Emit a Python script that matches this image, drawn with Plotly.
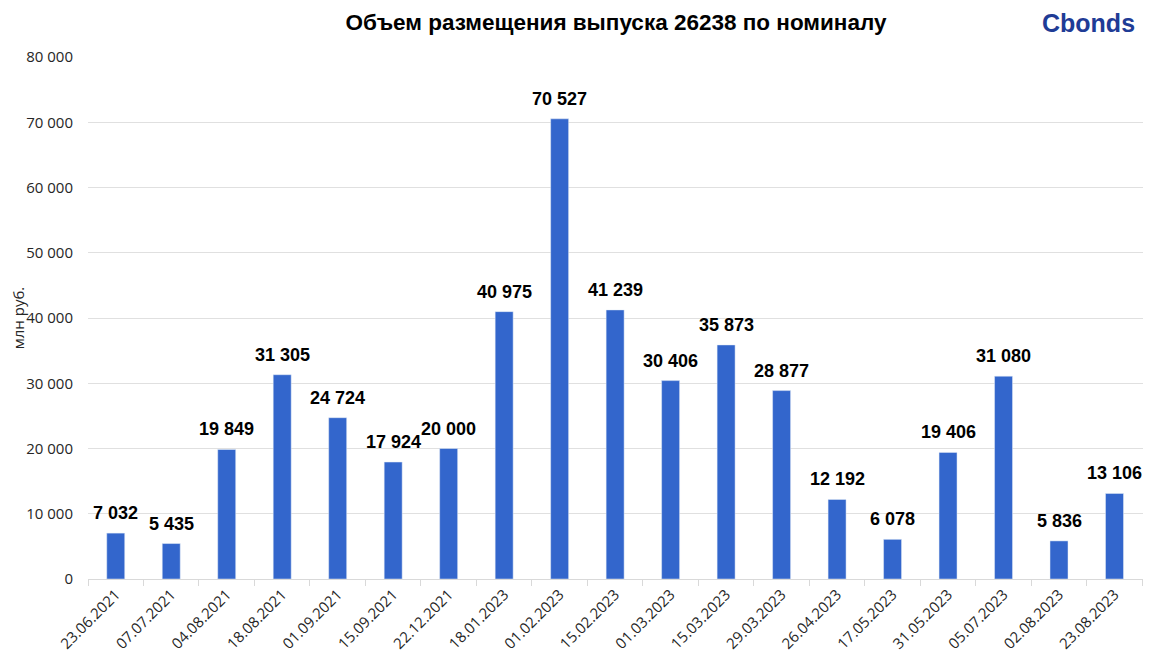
import plotly.graph_objects as go

dates = ["23.06.2021", "07.07.2021", "04.08.2021", "18.08.2021", "01.09.2021",
         "15.09.2021", "22.12.2021", "18.01.2023", "01.02.2023", "15.02.2023",
         "01.03.2023", "15.03.2023", "29.03.2023", "26.04.2023", "17.05.2023",
         "31.05.2023", "05.07.2023", "02.08.2023", "23.08.2023"]
volumes = [7032, 5435, 19849, 31305, 24724, 17924, 20000, 40975, 70527, 41239,
           30406, 35873, 28877, 12192, 6078, 19406, 31080, 5836, 13106]
y_ticks = [0, 10000, 20000, 30000, 40000, 50000, 60000, 70000, 80000]

labels = [f"{v:,}".replace(",", " ") for v in volumes]
tick_text = [f"{v:,}".replace(",", " ") for v in y_ticks]

fig = go.Figure(go.Bar(
    x=dates, y=volumes,
    marker=dict(color="#3366cc"), cliponaxis=False,
))

for d, v, t in zip(dates, volumes, labels):
    fig.add_annotation(
        x=d, y=v, text=t, showarrow=False, xanchor="center", yanchor="bottom",
        yshift=8,
        font=dict(family="Liberation Sans, Arial", size=18, color="#000000", weight="bold"),
    )

fig.update_layout(
    width=1143, height=661,
    margin=dict(l=80, r=7, t=49, b=90),
    paper_bgcolor="white", plot_bgcolor="white",
    bargap=0.676,
    showlegend=False,
    title=dict(text="<b>Объем размещения выпуска 26238 по номиналу</b>",
               x=0.5, xref="paper", xanchor="center", y=0.979, yanchor="middle",
               font=dict(family="Liberation Sans, Arial", size=22.5, color="#000000")),
    font=dict(family="Open Sans, Liberation Sans", color="#262626"),
)
fig.update_xaxes(
    type="category", tickangle=-45, tickfont=dict(size=15, color="#262626"),
    showline=True, linecolor="#d9d9d9", linewidth=1,
    ticks="outside", tickson="boundaries", ticklen=6, tickcolor="#d9d9d9",
    showgrid=False,
)
fig.update_yaxes(
    range=[0, 80000], tickvals=y_ticks, ticktext=tick_text,
    tickfont=dict(size=15, color="#262626"),
    showgrid=True, gridcolor="#e0e0e0", gridwidth=1, zeroline=False,
    title=dict(text="млн руб.", font=dict(size=15, color="#262626"), standoff=0),
    ticks="", ticklabelstandoff=14,
)
fig.add_annotation(
    text="<b>Cbonds</b>", xref="paper", yref="paper", x=0.993, y=1.065,
    xanchor="right", yanchor="middle", showarrow=False,
    font=dict(family="Liberation Sans, Arial", size=25, color="#1f3c96"),
)
fig.write_html("out.html")
